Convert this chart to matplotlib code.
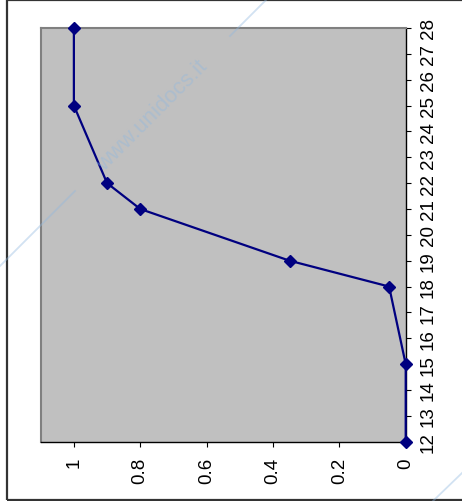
import matplotlib
matplotlib.use("Agg")
import matplotlib.pyplot as plt
from matplotlib.lines import Line2D
from matplotlib.patches import Rectangle

# Data
categories = [12, 15, 18, 19, 21, 22, 25, 28]
values = [0.0, 0.0, 0.05, 0.35, 0.8, 0.9, 1.0, 1.0]
cat_ticks = list(range(12, 29))
value_ticks = [0, 0.2, 0.4, 0.6, 0.8, 1]
value_tick_labels = ["0", "0.2", "0.4", "0.6", "0.8", "1"]

plt.rcParams["font.family"] = ["Liberation Sans", "DejaVu Sans"]

W, H = 462, 502
fig = plt.figure(figsize=(W / 100, H / 100), dpi=100)
fig.patch.set_facecolor("white")

ax = fig.add_axes([40.7 / W, 1 - 442.7 / H, (405.7 - 40.7) / W, (442.7 - 29) / H])
ax.set_facecolor("#c0c0c0")

ax.plot(values, categories, color="#000080", lw=1.6, marker="D",
        markersize=6.2, markerfacecolor="#000080", markeredgecolor="#000080",
        clip_on=False, zorder=5)

ax.set_xlim(1.1, 0)
ax.set_ylim(12, 28)

ax.set_xticks(value_ticks)
ax.set_xticklabels(value_tick_labels, rotation=90)
ax.set_yticks(cat_ticks)
ax.set_yticklabels([str(c) for c in cat_ticks], rotation=90, va="center")
ax.yaxis.tick_right()

ax.tick_params(axis="both", direction="out", length=3.6, width=0.8,
               colors="black", labelsize=13.5)
ax.tick_params(axis="x", pad=7.5)
ax.tick_params(axis="y", pad=6.5)

for side in ("left", "top"):
    ax.spines[side].set_color("#808080")
    ax.spines[side].set_linewidth(1.5)
for side in ("right", "bottom"):
    ax.spines[side].set_color("black")
    ax.spines[side].set_linewidth(1.0)

# Outer chart frame
fig.patches.append(Rectangle((7.5 / W, 1 - 500.5 / H), 1.2, 499.5 / H,
                             transform=fig.transFigure, fill=False,
                             edgecolor="#333333", lw=1.6, zorder=10))

# Faint watermark
wm_color = "#8fb8e0"
def seg(x0, y0, x1, y1):
    fig.add_artist(Line2D([x0 / W, x1 / W], [1 - y0 / H, 1 - y1 / H],
                          transform=fig.transFigure, color=wm_color,
                          alpha=0.4, lw=1.3, zorder=20))
seg(0, 267, 75, 192)
seg(230, 37, 267, 0)
seg(433, 502, 462, 474)
fig.text(152 / W, 1 - 116 / H, "www.unidocs.it", rotation=45,
         ha="center", va="center", fontsize=16, color=wm_color, alpha=0.4,
         rotation_mode="anchor", zorder=20)

fig.savefig("out.png", dpi=100)
